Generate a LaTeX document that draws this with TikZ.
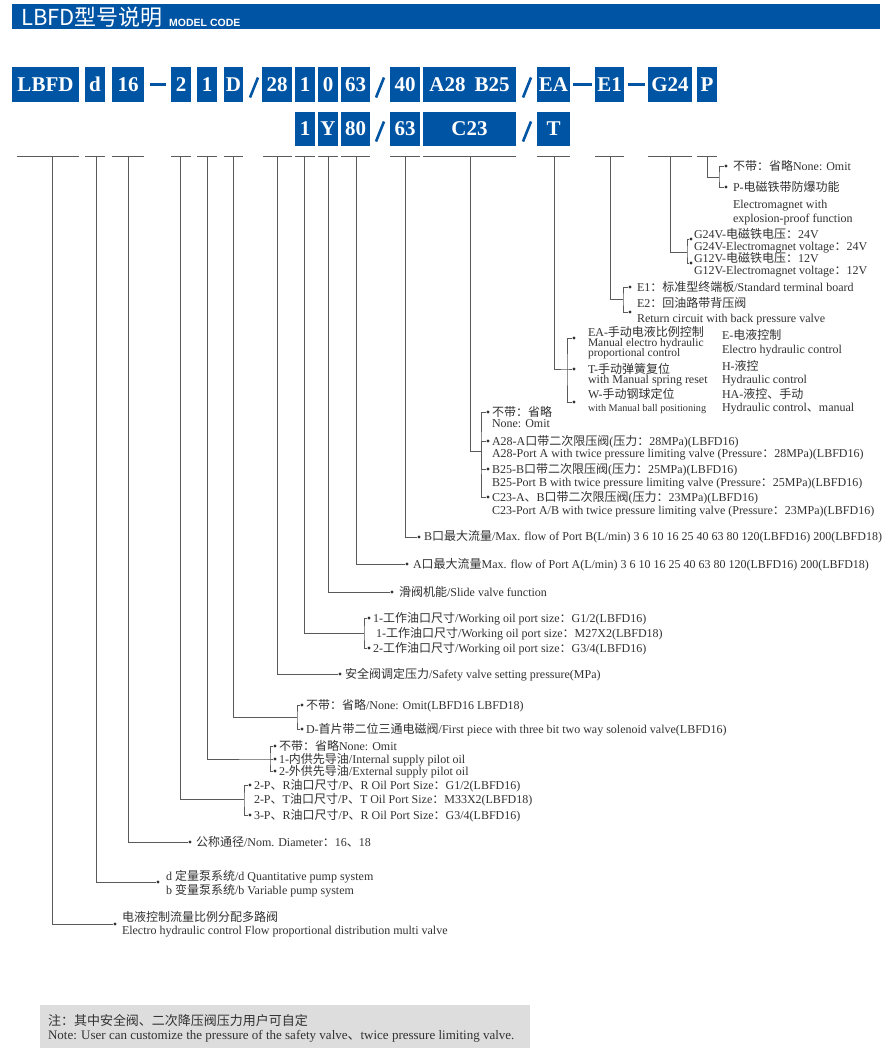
\documentclass[tikz,border=0pt]{standalone}
\usepackage{fontspec}
\setmainfont{Liberation Serif}
\newfontfamily\cjkfont{Noto Sans CJK SC}
\newfontfamily\hsans{Liberation Sans}
\XeTeXinterchartokenstate=1
\chardef\CJKcls=200
\makeatletter
\count@="4E00
\loop
  \XeTeXcharclass\count@=\CJKcls
  \ifnum\count@<"9FFF \advance\count@\@ne
\repeat
\makeatother
\XeTeXcharclass"3001=\CJKcls
\XeTeXcharclass"3002=\CJKcls
\XeTeXcharclass"FF1A=\CJKcls
\XeTeXcharclass"FF0C=\CJKcls
\XeTeXinterchartoks 0 \CJKcls = {\cjkfont}
\XeTeXinterchartoks 4095 \CJKcls = {\cjkfont}
\XeTeXinterchartoks \CJKcls 0 = {\rmfamily}
\XeTeXinterchartoks \CJKcls 4095 = {\rmfamily}
\definecolor{cblue}{RGB}{0,84,164}
\definecolor{txtc}{RGB}{50,50,50}
\definecolor{lnc}{RGB}{90,90,90}
\definecolor{noteg}{RGB}{221,221,221}
\tikzset{
  ln/.style={draw=lnc, line width=0.9pt},
  dotn/.style={circle, fill=txtc, draw=none, inner sep=0pt, minimum size=3.2pt},
  tx/.style={anchor=base west, inner sep=0pt, outer sep=0pt, text=txtc, font=\fontsize{12}{14}\selectfont},
  txm/.style={tx, font=\fontsize{11.5}{12}\selectfont},
  txs/.style={tx, font=\fontsize{10.2}{12}\selectfont},
  txl/.style={tx, font=\fontsize{13}{14}\selectfont},
  codebox/.style={fill=cblue, draw=none, inner sep=0pt, text=white, font=\fontsize{21}{21}\selectfont\bfseries},
  bluemark/.style={draw=cblue, line width=2.6pt},
}
\begin{document}
\begin{tikzpicture}[x=1pt,y=-1pt]
\useasboundingbox (0,0) rectangle (895,1055);
\fill[white] (0,0) rectangle (895,1055);
% header
\node[fill=cblue, minimum width=868pt, minimum height=25pt, inner sep=0pt, anchor=north west] (hdr) at (12,4) {};
\node[anchor=base west, inner sep=0pt, text=white, font=\cjkfont\fontsize{22}{22}\selectfont] (hdt) at (21,25) {LBFD型号说明};
\node[anchor=base west, inner sep=0pt, text=white, font=\hsans\bfseries\fontsize{10.5}{11}\selectfont] (hdm) at (169,26) {MODEL CODE};
% row 1 boxes
\node[codebox, minimum width=67pt, minimum height=35pt] (bLBFD) at (45.5,84.5) {LBFD};
\node[codebox, minimum width=20pt, minimum height=35pt] (bd) at (95,84.5) {d};
\node[codebox, minimum width=32pt, minimum height=35pt] (b16) at (128,84.5) {16};
\node[codebox, minimum width=20pt, minimum height=35pt] (b2) at (181,84.5) {2};
\node[codebox, minimum width=20pt, minimum height=35pt] (b1) at (207,84.5) {1};
\node[codebox, minimum width=19pt, minimum height=35pt] (bD) at (233.5,84.5) {D};
\node[codebox, minimum width=30pt, minimum height=35pt] (b28) at (277,84.5) {28};
\node[codebox, minimum width=20pt, minimum height=35pt] (bw1) at (305,84.5) {1};
\node[codebox, minimum width=20pt, minimum height=35pt] (b0) at (328,84.5) {0};
\node[codebox, minimum width=29pt, minimum height=35pt] (b63) at (355.5,84.5) {63};
\node[codebox, minimum width=30pt, minimum height=35pt] (b40) at (405,84.5) {40};
\node[codebox, minimum width=93pt, minimum height=35pt] (bAB) at (469.5,84.5) {A28\hspace{9pt}B25};
\node[codebox, minimum width=33pt, minimum height=35pt] (bEA) at (553.5,84.5) {EA};
\node[codebox, minimum width=29pt, minimum height=35pt] (bE1) at (609.5,84.5) {E1};
\node[codebox, minimum width=44pt, minimum height=35pt] (bG) at (670,84.5) {G24};
\node[codebox, minimum width=20pt, minimum height=35pt] (bP) at (707,84.5) {P};
% row 2 boxes
\node[codebox, minimum width=20pt, minimum height=34pt] (c1) at (305,129) {1};
\node[codebox, minimum width=20pt, minimum height=34pt] (cY) at (328,129) {Y};
\node[codebox, minimum width=29pt, minimum height=34pt] (c80) at (355.5,129) {80};
\node[codebox, minimum width=30pt, minimum height=34pt] (c63) at (405,129) {63};
\node[codebox, minimum width=93pt, minimum height=34pt] (cC) at (469.5,129) {C23};
\node[codebox, minimum width=33pt, minimum height=34pt] (cT) at (553.5,129) {T};
% dashes and slashes
\draw[bluemark] (b16.east) ++(6,0) coordinate (m1a) -- ++(16,0) coordinate (m1b);
\draw[bluemark] (bEA.east) ++(3,0) coordinate (m2a) -- ++(19,0) coordinate (m2b);
\draw[bluemark] (bE1.east) ++(4,0) coordinate (m3a) -- ++(17,0) coordinate (m3b);
\draw[bluemark] (250,97.5) coordinate (s1a) -- (258,77.5) coordinate (s1b);
\draw[bluemark] (376,97.5) coordinate (s2a) -- (384,77.5) coordinate (s2b);
\draw[bluemark] (523,97.5) coordinate (s3a) -- (531,77.5) coordinate (s3b);
\draw[bluemark] (376,141.5) coordinate (s4a) -- (384,121.5) coordinate (s4b);
\draw[bluemark] (523,141.5) coordinate (s5a) -- (531,121.5) coordinate (s5b);
% under lines
\coordinate (base) at (0,156);
\foreach \a/\b in {17/79,85/105,112/144,171/191,197/217,224/243,263/292,295/315,318/338,341/370,390/420,423/516,537/570,595/624,648/692,697/717}
  \draw[ln] (\a,156) -- (\b,156);
% ---------- P ----------
\coordinate (uP) at (707,156); \coordinate (cP) at (719,177);
\node[dotn] (dP1) at (726,166) {}; \node[dotn] (dP2) at (726,187) {};
\draw[ln] (uP) |- (cP); \draw[ln] (dP1) -| (cP) |- (dP2);
\node[tx] (tP1) at (733,170) {不带：省略None: Omit};
\node[tx] (tP2) at (733,191.5) {P-电磁铁带防爆功能};
\node[tx] (tP3) at (733,208) {Electromagnet with};
\node[tx] (tP4) at (733,222) {explosion-proof function};
% ---------- G24 ----------
\coordinate (uG) at (670,156); \coordinate (cG) at (687,252);
\node[dotn] (dG1) at (691,239) {}; \node[dotn] (dG2) at (691,263) {};
\draw[ln] (uG) |- (cG); \draw[ln] (dG1) -| (cG) |- (dG2);
\node[tx] (tG1) at (694,238) {G24V-电磁铁电压：24V};
\node[tx] (tG2) at (694,250) {G24V-Electromagnet voltage：24V};
\node[tx] (tG3) at (694,262) {G12V-电磁铁电压：12V};
\node[tx] (tG4) at (694,274.5) {G12V-Electromagnet voltage：12V};
% ---------- E1 ----------
\coordinate (uE) at (610,156); \coordinate (cE) at (623,299);
\node[dotn] (dE1) at (630,287) {}; \node[dotn] (dE2) at (630,312) {};
\draw[ln] (uE) |- (cE); \draw[ln] (dE1) -| (cE) |- (dE2);
\node[tx] (tE1) at (637,291) {E1：标准型终端板/Standard terminal board};
\node[tx] (tE2) at (637,307) {E2：回油路带背压阀};
\node[tx] (tE3) at (637,322) {Return circuit with back pressure valve};
% ---------- EA ----------
\coordinate (uA) at (554,156); \coordinate (cA) at (567,369);
\node[dotn] (dA1) at (574,338) {}; \node[dotn] (dA2) at (574,369) {}; \node[dotn] (dA3) at (574,402) {};
\draw[ln] (uA) |- (cA) -- (dA2); \draw[ln] (dA1) -| (cA) |- (dA3);
\node[tx] (tA1) at (588,336.5) {EA-手动电液比例控制};
\node[txm] (tA2) at (588,346.5) {Manual electro hydraulic};
\node[txm] (tA3) at (588,356.5) {proportional control};
\node[tx] (tA4) at (588,373) {T-手动弹簧复位};
\node[tx] (tA5) at (588,383.5) {with Manual spring reset};
\node[tx] (tA6) at (588,398.5) {W-手动钢球定位};
\node[txs] (tA7) at (588,411) {with Manual ball positioning};
\node[tx] (tA8) at (722,339.5) {E-电液控制};
\node[tx] (tA9) at (722,353) {Electro hydraulic control};
\node[tx] (tA10) at (722,370.5) {H-液控};
\node[tx] (tA11) at (722,383.5) {Hydraulic control};
\node[tx] (tA12) at (722,398.5) {HA-液控、手动};
\node[tx] (tA13) at (722,411.5) {Hydraulic control、manual};
% ---------- A28 B25 C23 ----------
\coordinate (uB) at (470,156); \coordinate (cB) at (481,451);
\node[dotn] (dB1) at (488,412) {}; \node[dotn] (dB2) at (488,441) {};
\node[dotn] (dB3) at (488,469) {}; \node[dotn] (dB4) at (488,497) {};
\draw[ln] (uB) |- (cB); \draw[ln] (dB1) -| (cB) |- (dB4);
\draw[ln] (dB2) -| (cB); \draw[ln] (dB3) -| (cB);
\node[tx] (tB1) at (492,416) {不带：省略};
\node[tx] (tB2) at (492,427.5) {None: Omit};
\node[tx] (tB3) at (492,445) {A28-A口带二次限压阀(压力：28MPa)(LBFD16)};
\node[tx] (tB4) at (492,457.5) {A28-Port A with twice pressure limiting valve (Pressure：28MPa)(LBFD16)};
\node[tx] (tB5) at (492,473) {B25-B口带二次限压阀(压力：25MPa)(LBFD16)};
\node[tx] (tB6) at (492,486) {B25-Port B with twice pressure limiting valve (Pressure：25MPa)(LBFD16)};
\node[tx] (tB7) at (492,501) {C23-A、B口带二次限压阀(压力：23MPa)(LBFD16)};
\node[tx] (tB8) at (492,514.5) {C23-Port A/B with twice pressure limiting valve (Pressure：23MPa)(LBFD16)};
% ---------- port B flow ----------
\coordinate (uF) at (405,156);
\node[dotn] (dF) at (419,537) {};
\draw[ln] (uF) |- (dF);
\node[tx] (tF) at (424,540.5) {B口最大流量/Max. flow of Port B(L/min) 3 6 10 16 25 40 63 80 120(LBFD16) 200(LBFD18)};
% ---------- port A flow ----------
\coordinate (uH) at (356,156);
\node[dotn] (dH) at (407,564) {};
\draw[ln] (uH) |- (dH);
\node[tx] (tH) at (413,568) {A口最大流量Max. flow of Port A(L/min) 3 6 10 16 25 40 63 80 120(LBFD16) 200(LBFD18)};
% ---------- slide valve ----------
\coordinate (uS) at (328,156);
\node[dotn] (dS) at (392,592) {};
\draw[ln] (uS) |- (dS);
\node[tx] (tS) at (399,596) {滑阀机能/Slide valve function};
% ---------- working port ----------
\coordinate (uW) at (304,156); \coordinate (cW) at (364,633);
\node[dotn] (dW1) at (369,618) {}; \node[dotn] (dW2) at (369,648) {};
\draw[ln] (uW) |- (cW); \draw[ln] (dW1) -| (cW) |- (dW2);
\node[tx] (tW1) at (373,622) {1-工作油口尺寸/Working oil port size：G1/2(LBFD16)};
\node[tx] (tW2) at (376,637) {1-工作油口尺寸/Working oil port size：M27X2(LBFD18)};
\node[tx] (tW3) at (373,652) {2-工作油口尺寸/Working oil port size：G3/4(LBFD16)};
% ---------- safety ----------
\coordinate (uV) at (277,156);
\node[dotn] (dV) at (340,674) {};
\draw[ln] (uV) |- (dV);
\node[tx] (tV) at (345,678) {安全阀调定压力/Safety valve setting pressure(MPa)};
% ---------- D ----------
\coordinate (uD) at (233,156); \coordinate (cD) at (297,717);
\node[dotn] (dD1) at (302,705) {}; \node[dotn] (dD2) at (302,729) {};
\draw[ln] (uD) |- (cD); \draw[ln] (dD1) -| (cD) |- (dD2);
\node[tx] (tD1) at (306,709) {不带：省略/None: Omit(LBFD16 LBFD18)};
\node[tx] (tD2) at (306,733) {D-首片带二位三通电磁阀/First piece with three bit two way solenoid valve(LBFD16)};
% ---------- pilot ----------
\coordinate (uL) at (207,156); \coordinate (cL) at (270,759);
\node[dotn] (dL1) at (275,746) {}; \node[dotn] (dL2) at (275,759) {}; \node[dotn] (dL3) at (275,771) {};
\draw[ln] (uL) |- (cL) -- (dL2); \draw[ln] (dL1) -| (cL) |- (dL3);
\node[tx] (tL1) at (279,750) {不带：省略None: Omit};
\node[tx] (tL2) at (279,763) {1-内供先导油/Internal supply pilot oil};
\node[tx] (tL3) at (279,775) {2-外供先导油/External supply pilot oil};
% ---------- P R port ----------
\coordinate (uR) at (180,156); \coordinate (cR) at (244,799);
\node[dotn] (dR1) at (250,785) {}; \node[dotn] (dR2) at (250,815) {};
\draw[ln] (uR) |- (cR); \draw[ln] (dR1) -| (cR) |- (dR2);
\node[tx] (tR1) at (254,789) {2-P、R油口尺寸/P、R Oil Port Size：G1/2(LBFD16)};
\node[tx] (tR2) at (254,803.5) {2-P、T油口尺寸/P、T Oil Port Size：M33X2(LBFD18)};
\node[tx] (tR3) at (254,819) {3-P、R油口尺寸/P、R Oil Port Size：G3/4(LBFD16)};
% ---------- nominal ----------
\coordinate (uN) at (128,156);
\node[dotn] (dN) at (190,842) {};
\draw[ln] (uN) |- (dN);
\node[tx] (tN) at (196,846) {公称通径/Nom. Diameter：16、18};
% ---------- pump ----------
\coordinate (uQ) at (96,156);
\node[dotn] (dQ) at (158,882) {};
\draw[ln] (uQ) |- (dQ);
\node[tx] (tQ1) at (166,880) {d 定量泵系统/d Quantitative pump system};
\node[tx] (tQ2) at (166,894) {b 变量泵系统/b Variable pump system};
% ---------- LBFD ----------
\coordinate (uM) at (52,156);
\node[dotn] (dM) at (115,924) {};
\draw[ln] (uM) |- (dM);
\node[tx] (tM1) at (122,921) {电液控制流量比例分配多路阀};
\node[tx] (tM2) at (122,934.5) {Electro hydraulic control Flow proportional distribution multi valve};
% ---------- note ----------
\node[fill=noteg, minimum width=490pt, minimum height=43pt, inner sep=0pt, anchor=north west] (note) at (40,1005) {};
\node[txl] (nt1) at (48,1025) {注：其中安全阀、二次降压阀压力用户可自定};
\node[txl] (nt2) at (48,1039.5) {Note: User can customize the pressure of the safety valve、twice pressure limiting valve.};
\end{tikzpicture}
\end{document}
